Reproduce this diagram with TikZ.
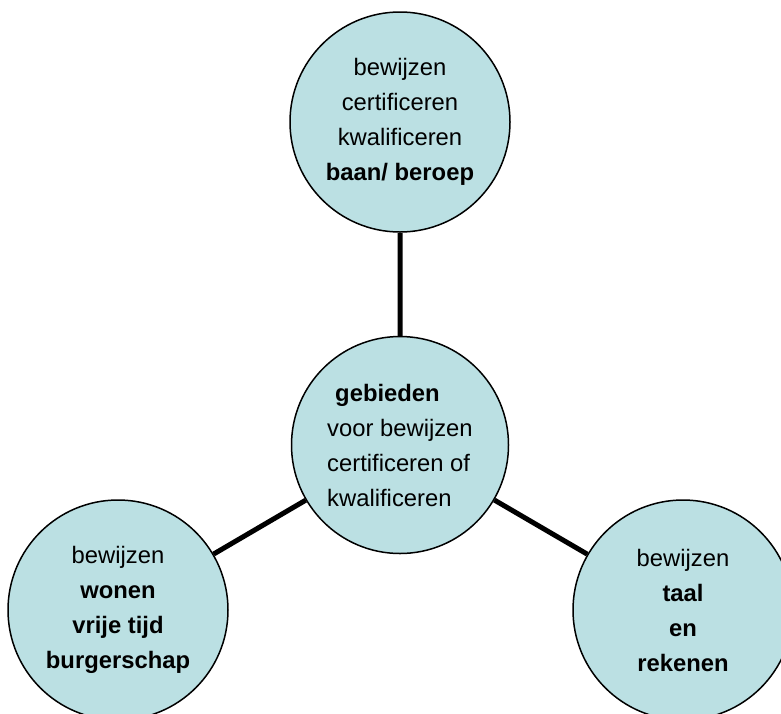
\documentclass[tikz,border=0pt]{standalone}
\usepackage{fontspec}
\setmainfont{Liberation Sans}
\definecolor{cirkel}{RGB}{187,224,227}
\begin{document}
\begin{tikzpicture}[x=1pt, y=-1pt, line join=round,
    bol/.style={circle, draw, line width=1.5pt, fill=cirkel, minimum size=220pt, inner sep=0pt, align=center, font=\fontsize{23.8}{35}\selectfont},
    lijn/.style={line width=5pt}]
  \useasboundingbox (0,0) rectangle (781,713);
  \clip (0,0) rectangle (781,713);
  % de vier cirkels
  \node[bol, minimum size=217pt, align=left] (midden) at (400,445) {\hspace*{8pt}\textbf{gebieden}\\voor bewijzen\\certificeren of\\kwalificeren};
  \node[bol] (baan) at (400,122) {bewijzen\\certificeren\\kwalificeren\\\textbf{baan/ beroep}};
  \node[bol] (wonen) at (118,610) {bewijzen\\\textbf{wonen}\\\textbf{vrije tijd}\\\textbf{burgerschap}};
  \node[bol] (taal) at (683,610) {bewijzen\\\textbf{taal}\\\textbf{en}\\\textbf{rekenen}};
  % verbindingen
  \draw[lijn] (midden) -- (baan) (midden) -- (wonen) (midden) -- (taal);
\end{tikzpicture}
\end{document}
